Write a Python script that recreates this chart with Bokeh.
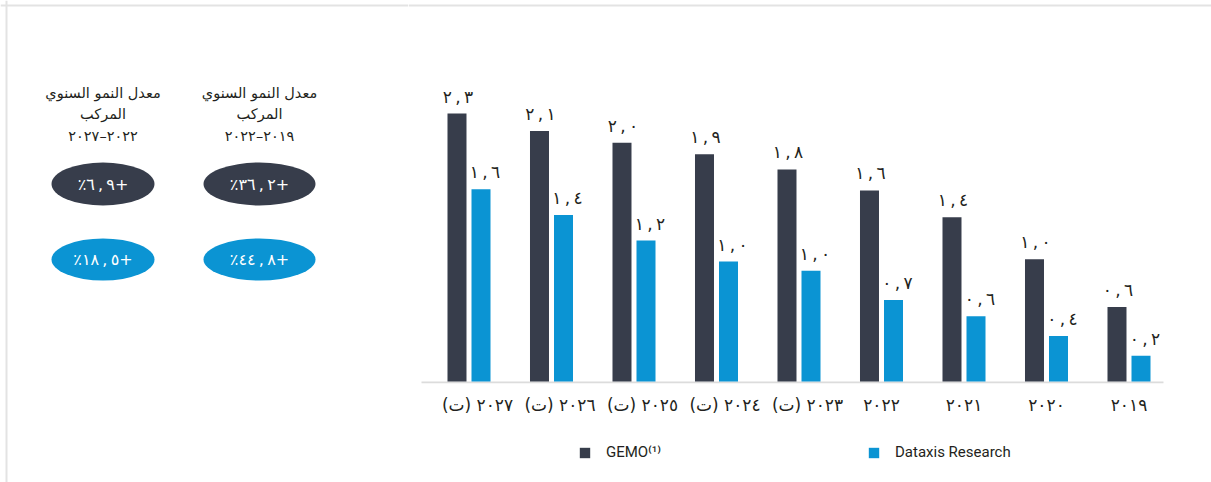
from bokeh.plotting import figure
from bokeh.layouts import row, column
from bokeh.models import ColumnDataSource, Range1d, FixedTicker, Legend, LegendItem, Span
from bokeh.transform import dodge
from bokeh.embed import file_html
from bokeh.resources import INLINE
from bokeh.core.properties import value

RLM = "\u200f"
RLE, LRO, PDF = "\u202b", "\u202d", "\u202c"
THIN = "\u2009"
EMSP = "\u2003"

# ---------------- data ----------------
years = ["٢٠٢٧ (ت)", "٢٠٢٦ (ت)", "٢٠٢٥ (ت)", "٢٠٢٤ (ت)", "٢٠٢٣ (ت)",
         "٢٠٢٢", "٢٠٢١", "٢٠٢٠", "٢٠١٩"]
gemo = [2.30, 2.15, 2.05, 1.95, 1.82, 1.64, 1.41, 1.05, 0.64]
dataxis = [1.65, 1.43, 1.21, 1.03, 0.95, 0.70, 0.56, 0.39, 0.22]
gemo_labels = ["٢,٣", "٢,١", "٢,٠", "١,٩", "١,٨", "١,٦", "١,٤", "١,٠", "٠,٦"]
dataxis_labels = ["١,٦", "١,٤", "١,٢", "١,٠", "١,٠", "٠,٧", "٠,٦", "٠,٤", "٠,٢"]
series_names = ["GEMO⁽¹⁾", "Dataxis Research"]

cagr_title_1 = "معدل النمو السنوي"
cagr_title_2 = "المركب"
cagr_periods = ["٢٠١٩–٢٠٢٢", "٢٠٢٢–٢٠٢٧"]
cagr_gemo = ["٣٦,٢", "٦,٩"]        # shown as +x٪
cagr_dataxis = ["٤٤,٨", "١٨,٥"]


def num(s):
    """Arabic decimal with spaced comma, kept in left-to-right order."""
    return LRO + s.replace(",", THIN + "," + THIN) + PDF


def pct(s):
    return RLE + "+" + num(s) + "٪" + PDF


def year_label(s):
    # forecast labels sit slightly right of the group centre in the original
    return (EMSP + s + RLM) if "(" in s else s


# ---------------- styles ----------------
DARK = "#373d4b"
BLUE = "#0b94d3"
TXT = "#231f20"
BORDER = "#e3e3e3"
AR_FONT = "DejaVu Sans"

W_LEFT, W_RIGHT, H = 408, 803, 482
H_LEG = 40

# ---------------- left panel (CAGR badges) ----------------
# coordinates: x = page x, y = H - page y
left = figure(width=W_LEFT, height=H, output_backend="svg", toolbar_location=None,
              x_range=Range1d(0, W_LEFT), y_range=Range1d(0, H),
              x_axis_location=None, y_axis_location=None,
              min_border=0, outline_line_color=None)
left.grid.visible = False


def Y(py):
    return H - py


left.add_layout(Span(location=Y(5), dimension="width", line_color=BORDER, line_width=2))
left.add_layout(Span(location=6, dimension="height", line_color=BORDER, line_width=2))

col_x = [259, 102.5]
badge_w = [112, 103]
src_l = ColumnDataSource(dict(
    x=col_x, w=badge_w,
    t1=[cagr_title_1] * 2, t2=[cagr_title_2] * 2, per=cagr_periods,
    g=[pct(s) for s in cagr_gemo],
    d=[pct(s) for s in cagr_dataxis],
))
for py, col in [(92, "t1"), (113, "t2"), (135, "per")]:
    left.text(x="x", y=Y(py), text=col, source=src_l, text_align="center",
              text_baseline="middle", text_font=value(AR_FONT),
              text_font_size="14.5px", text_color=TXT)
left.ellipse(x="x", y=Y(183.5), width="w", height=43, source=src_l,
             fill_color=DARK, line_color=None)
left.ellipse(x="x", y=Y(259), width="w", height=42, source=src_l,
             fill_color=BLUE, line_color=None)
left.text(x="x", y=Y(183.5), text="g", source=src_l, text_align="center",
          text_baseline="middle", text_font=value(AR_FONT),
          text_font_size="16px", text_color="white")
left.text(x="x", y=Y(259), text="d", source=src_l, text_align="center",
          text_baseline="middle", text_font=value(AR_FONT),
          text_font_size="16px", text_color="white")

# ---------------- bar chart ----------------
PX = 116.5                 # pixels per unit
FRAME_H = 383              # page y 0 .. 383
y0 = -2 / PX
idx = list(range(len(years)))
src = ColumnDataSource(dict(
    x=idx, gemo=gemo, dataxis=dataxis,
    gl=[num(s) for s in gemo_labels], dl=[num(s) for s in dataxis_labels],
))

p = figure(width=W_RIGHT, height=H - H_LEG, output_backend="svg", toolbar_location=None,
           x_range=Range1d(-0.7333, 9.0), y_range=Range1d(y0, y0 + FRAME_H / PX),
           y_axis_location=None,
           min_border_left=0, min_border_right=0, min_border_top=0,
           min_border_bottom=H - H_LEG - FRAME_H, outline_line_color=None)
p.grid.visible = False

p.add_layout(Span(location=y0 + (FRAME_H - 5) / PX, dimension="width",
                  line_color=BORDER, line_width=2))
# baseline (axis line) spanning the category band only
p.segment(x0=[-0.5758], y0=[-1 / PX], x1=[8.418], y1=[-1 / PX],
          line_color="#dcdcdc", line_width=2)

off = 0.1455
bw = 0.2303
r1 = p.vbar(x=dodge("x", -off, range=p.x_range), top="gemo", width=bw,
            source=src, fill_color=DARK, line_color=None)
r2 = p.vbar(x=dodge("x", off, range=p.x_range), top="dataxis", width=bw,
            source=src, fill_color=BLUE, line_color=None)

p.text(x=dodge("x", -off, range=p.x_range), y="gemo", text="gl", source=src,
       x_offset=1, y_offset=-17, text_align="center", text_baseline="alphabetic",
       text_font=value(AR_FONT), text_font_size="17px", text_color=TXT)
p.text(x=dodge("x", off, range=p.x_range), y="dataxis", text="dl", source=src,
       x_offset=4, y_offset=-17, text_align="center", text_baseline="alphabetic",
       text_font=value(AR_FONT), text_font_size="17px", text_color=TXT)

xa = p.xaxis[0]
xa.ticker = FixedTicker(ticks=idx)
xa.major_label_overrides = {i: year_label(years[i]) for i in idx}
xa.major_tick_line_color = None
xa.major_tick_out = 0
xa.major_tick_in = 0
xa.minor_tick_line_color = None
xa.axis_line_color = None
xa.major_label_standoff = 11
xa.major_label_text_font = AR_FONT
xa.major_label_text_font_size = "17px"
xa.major_label_text_color = TXT

# ---------------- legend strip ----------------
lf = figure(width=W_RIGHT, height=H_LEG, output_backend="svg", toolbar_location=None,
            x_range=Range1d(0, 1), y_range=Range1d(0, 1),
            x_axis_location=None, y_axis_location=None,
            min_border=0, outline_line_color=None)
lf.grid.visible = False
# off-screen proxies so the legend can show each series' swatch
k1 = lf.vbar(x=[5], top=[1], width=0.1, fill_color=DARK, line_color=None)
k2 = lf.vbar(x=[5], top=[1], width=0.1, fill_color=BLUE, line_color=None)
legend = Legend(items=[LegendItem(label=series_names[0], renderers=[k1]),
                       LegendItem(label=series_names[1], renderers=[k2])],
                orientation="horizontal", location=(170, 21),
                glyph_width=13, glyph_height=13, label_standoff=15,
                label_width=261, label_height=13, spacing=0, padding=0, margin=0,
                border_line_color=None, background_fill_alpha=0,
                label_text_font="Roboto", label_text_font_size="15px",
                label_text_color=TXT)
lf.add_layout(legend, "center")

layout = row(left, column(p, lf))

with open("out.html", "w") as f:
    f.write(file_html(layout, INLINE))
